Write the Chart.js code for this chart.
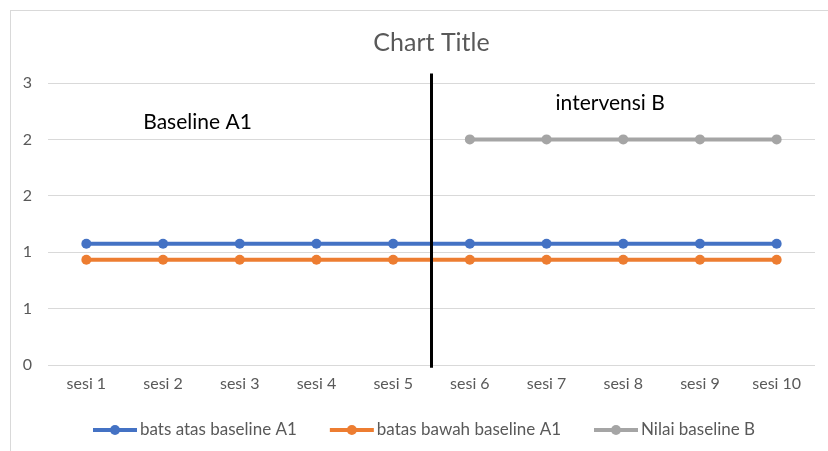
<!DOCTYPE html>
<html>
<head>
<meta charset="utf-8">
<script src="https://cdn.jsdelivr.net/npm/chart.js@4.4.1/dist/chart.umd.min.js"></script>
<style>
  html, body { margin: 0; padding: 0; background: #fff; }
  #wrap { width: 828px; height: 451px; position: relative; }
</style>
</head>
<body>
<div id="wrap"><canvas id="c" width="828" height="451"></canvas></div>
<script>
// Sessions along the x axis
const sessions = ['sesi 1', 'sesi 2', 'sesi 3', 'sesi 4', 'sesi 5', 'sesi 6', 'sesi 7', 'sesi 8', 'sesi 9', 'sesi 10'];

// Series values
const upperBaselineA1 = [1.29, 1.29, 1.29, 1.29, 1.29, 1.29, 1.29, 1.29, 1.29, 1.29];
const lowerBaselineA1 = [1.12, 1.12, 1.12, 1.12, 1.12, 1.12, 1.12, 1.12, 1.12, 1.12];
const baselineB = [null, null, null, null, null, 2.4, 2.4, 2.4, 2.4, 2.4];

const seriesNames = ['bats atas baseline A1', 'batas bawah baseline A1', 'Nilai baseline B'];
const seriesColors = ['#4472C4', '#ED7D31', '#A5A5A5'];

// Y axis tick values (labels shown rounded to whole numbers)
const yTicks = [0, 0.6, 1.2, 1.8, 2.4, 3.0];

// Phase labels and the phase-change divider, in axis units
const phaseLabels = [
  { text: 'Baseline A1', x: 1.45, y: 2.58 },
  { text: 'intervensi B', x: 6.83, y: 2.78 }
];
const phaseDivider = { x: 4.5, top: 3.1, bottom: -0.03 };

const FONT = 'Lato, "Liberation Sans", sans-serif';
const TEXT_GREY = '#595959';

const frameAndNotes = {
  id: 'frameAndNotes',
  beforeDraw(chart) {
    const ctx = chart.ctx;
    ctx.save();
    ctx.fillStyle = '#fff';
    ctx.fillRect(0, 0, chart.width, chart.height);
    ctx.strokeStyle = '#D9D9D9';
    ctx.lineWidth = 1;
    ctx.strokeRect(10.5, 10.5, chart.width + 20, chart.height + 20);
    ctx.restore();
  },
  afterDraw(chart) {
    const ctx = chart.ctx;
    const xs = chart.scales.x, ys = chart.scales.y;
    ctx.save();

    // phase-change divider
    const mid = (xs.getPixelForValue(Math.floor(phaseDivider.x)) + xs.getPixelForValue(Math.ceil(phaseDivider.x))) / 2;
    ctx.strokeStyle = '#000';
    ctx.lineWidth = 3;
    ctx.beginPath();
    ctx.moveTo(mid, ys.getPixelForValue(phaseDivider.top));
    ctx.lineTo(mid, ys.getPixelForValue(phaseDivider.bottom));
    ctx.stroke();

    // phase labels
    ctx.fillStyle = '#000';
    ctx.font = '21px ' + FONT;
    ctx.textAlign = 'center';
    ctx.textBaseline = 'middle';
    phaseLabels.forEach(p => {
      const i = Math.floor(p.x), f = p.x - i;
      const px = xs.getPixelForValue(i) + f * (xs.getPixelForValue(i + 1) - xs.getPixelForValue(i));
      ctx.fillText(p.text, px, ys.getPixelForValue(p.y));
    });

    // legend: line with marker, then series name
    ctx.font = '17px ' + FONT;
    ctx.textAlign = 'left';
    let lx = 93;
    const ly = 430;
    chart.data.datasets.forEach(ds => {
      ctx.strokeStyle = ds.borderColor;
      ctx.lineWidth = 4;
      ctx.beginPath();
      ctx.moveTo(lx, ly);
      ctx.lineTo(lx + 44, ly);
      ctx.stroke();
      ctx.fillStyle = ds.borderColor;
      ctx.beginPath();
      ctx.arc(lx + 22, ly, 5, 0, Math.PI * 2);
      ctx.fill();
      ctx.fillStyle = TEXT_GREY;
      ctx.fillText(ds.label, lx + 47, ly);
      lx += 47 + ctx.measureText(ds.label).width + 33;
    });
    ctx.restore();
  }
};

const values = [upperBaselineA1, lowerBaselineA1, baselineB];

new Chart(document.getElementById('c'), {
  type: 'line',
  data: {
    labels: sessions,
    datasets: values.map((v, i) => ({
      label: seriesNames[i],
      data: v,
      borderColor: seriesColors[i],
      backgroundColor: seriesColors[i],
      borderWidth: 4,
      pointRadius: 5,
      pointHoverRadius: 5,
      pointBackgroundColor: seriesColors[i],
      pointBorderWidth: 0,
      spanGaps: false,
      tension: 0
    }))
  },
  options: {
    responsive: false,
    animation: false,
    layout: { padding: { left: 0, right: 13, top: 0, bottom: 46 } },
    plugins: {
      legend: { display: false },
      tooltip: { enabled: false },
      title: {
        display: true,
        fullSize: false,
        text: 'Chart Title',
        color: TEXT_GREY,
        font: { family: FONT, size: 25, weight: 'normal' },
        padding: { top: 28, bottom: 25 }
      }
    },
    scales: {
      x: {
        offset: true,
        grid: { display: false, drawTicks: false },
        border: { display: false },
        ticks: { color: TEXT_GREY, font: { family: FONT, size: 16 }, padding: 9, maxRotation: 0 },
        afterFit(scale) { scale.height = 40; }
      },
      y: {
        min: 0,
        max: 3,
        afterBuildTicks(scale) { scale.ticks = yTicks.map(v => ({ value: v })); },
        grid: { color: '#D9D9D9', lineWidth: 1, drawTicks: false },
        border: { display: false },
        ticks: {
          color: TEXT_GREY,
          font: { family: FONT, size: 16 },
          padding: 16,
          callback: v => String(Math.round(v))
        },
        afterFit(scale) { scale.width = 48; }
      }
    }
  },
  plugins: [frameAndNotes]
});
</script>
</body>
</html>
